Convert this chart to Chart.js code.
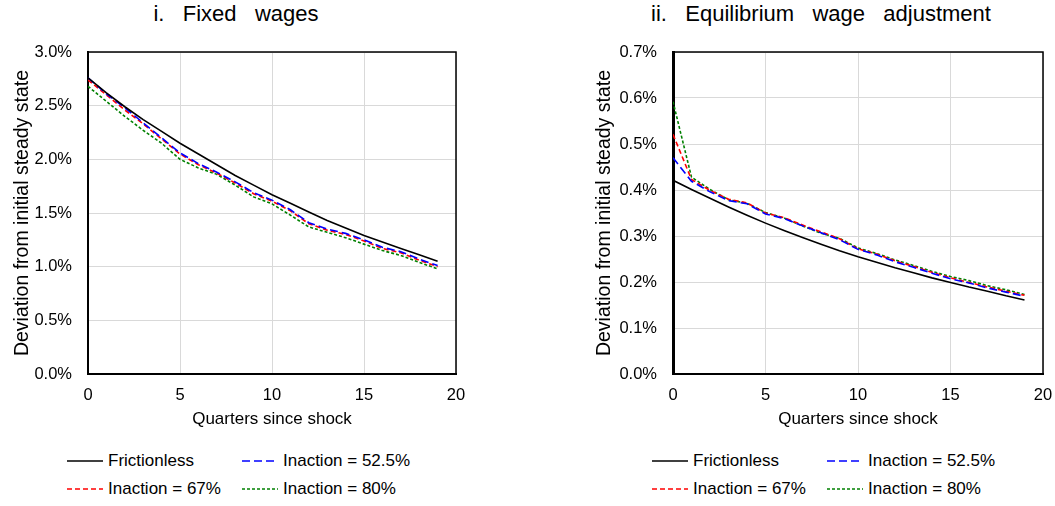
<!DOCTYPE html>
<html>
<head>
<meta charset="utf-8">
<title>Fixed wages vs equilibrium wage adjustment</title>
<script src="https://cdn.jsdelivr.net/npm/chart.js@4.4.1/dist/chart.umd.min.js"></script>
<style>
  body { margin: 0; background: #fff; font-family: "Liberation Sans", Arial, sans-serif; color: #000; }
  #page { position: relative; width: 1055px; height: 506px; overflow: hidden; }
  .panel { position: absolute; top: 0; height: 440px; }
  .title { position: absolute; top: 0; font-size: 22px; line-height: 28px; white-space: pre; transform: translateX(-50%); }
  .legend-item { position: absolute; display: flex; align-items: center; font-size: 17px; white-space: pre; transform: translateY(-50%); }
  .legend-item svg { margin-right: 5px; }
</style>
</head>
<body>
<div id="page">
  <div class="title" style="left:236px">i.   Fixed   wages</div>
  <div class="title" style="left:821px">ii.   Equilibrium   wage   adjustment</div>
  <div class="panel" style="left:0; width:527px"><canvas id="fixedChart"></canvas></div>
  <div class="panel" style="left:527px; width:528px"><canvas id="eqChart"></canvas></div>
</div>

<script>
// data
const quarters = [0, 1, 2, 3, 4, 5, 6, 7, 8, 9, 10, 11, 12, 13, 14, 15, 16, 17, 18, 19];
const seriesNames = ["Frictionless", "Inaction = 52.5%", "Inaction = 67%", "Inaction = 80%"];

// panel i. fixed wages (%)
const fixedFrictionless = [2.76, 2.62, 2.49, 2.37, 2.26, 2.15, 2.05, 1.95, 1.85, 1.76, 1.67, 1.59, 1.51, 1.43, 1.36, 1.29, 1.23, 1.17, 1.11, 1.05];
const fixedInaction525 = [2.76, 2.61, 2.48, 2.34, 2.20, 2.06, 1.96, 1.88, 1.79, 1.69, 1.62, 1.53, 1.41, 1.35, 1.31, 1.25, 1.18, 1.14, 1.07, 1.01];
const fixedInaction67 = [2.74, 2.60, 2.46, 2.33, 2.19, 2.05, 1.95, 1.87, 1.78, 1.68, 1.61, 1.52, 1.40, 1.34, 1.30, 1.24, 1.17, 1.13, 1.06, 1.00];
const fixedInaction80 = [2.68, 2.54, 2.40, 2.27, 2.15, 2.00, 1.92, 1.86, 1.76, 1.65, 1.585, 1.48, 1.37, 1.32, 1.27, 1.21, 1.15, 1.105, 1.04, 0.98];

// panel ii. equilibrium wage adjustment (%)
const eqFrictionless = [0.421, 0.401, 0.382, 0.363, 0.345, 0.328, 0.312, 0.297, 0.282, 0.268, 0.255, 0.243, 0.231, 0.220, 0.209, 0.199, 0.189, 0.180, 0.170, 0.161];
const eqInaction525 = [0.470, 0.419, 0.396, 0.377, 0.370, 0.348, 0.338, 0.322, 0.307, 0.292, 0.271, 0.259, 0.244, 0.232, 0.219, 0.207, 0.198, 0.187, 0.178, 0.169];
const eqInaction67 = [0.521, 0.423, 0.399, 0.380, 0.372, 0.350, 0.340, 0.324, 0.309, 0.294, 0.272, 0.261, 0.246, 0.234, 0.221, 0.209, 0.199, 0.189, 0.180, 0.171];
const eqInaction80 = [0.592, 0.428, 0.401, 0.379, 0.371, 0.351, 0.339, 0.322, 0.306, 0.295, 0.274, 0.262, 0.248, 0.236, 0.223, 0.212, 0.203, 0.192, 0.183, 0.173];

// gaya garis
const seriesColors = ["#000000", "#0000ff", "#ff0000", "#008000"];
const seriesDash = [[], [8, 4], [5, 3], [3, 2]];

Chart.defaults.font.family = '"Liberation Sans", Arial, sans-serif';
Chart.defaults.color = "#000";

// plugin untuk kotak hitam di sekitar area plot (atas + kanan)
const frameBox = {
  id: "frameBox",
  afterDatasetsDraw(chart) {
    const { ctx, chartArea } = chart;
    ctx.save();
    ctx.strokeStyle = "#000";
    ctx.lineWidth = 1.5;
    ctx.beginPath();
    ctx.moveTo(chartArea.left, chartArea.top);
    ctx.lineTo(chartArea.right, chartArea.top);
    ctx.lineTo(chartArea.right, chartArea.bottom);
    ctx.stroke();
    ctx.restore();
  },
};

function makeChart(canvasId, seriesValues, yMax, padLeft, padRight, yWidth, leftBorder) {
  const config = {
    type: "line",
    data: {
      datasets: seriesValues.map((vals, i) => ({
        label: seriesNames[i],
        data: quarters.map((q, k) => ({ x: q, y: vals[k] })),
        borderColor: seriesColors[i],
        backgroundColor: seriesColors[i],
        borderDash: seriesDash[i],
        borderWidth: 1.6,
        pointRadius: 0,
        tension: 0,
      })),
    },
    options: {
      responsive: true,
      maintainAspectRatio: false,
      animation: false,
      layout: { padding: { top: 52, left: padLeft, right: padRight, bottom: 0 } },
      plugins: { legend: { display: false }, tooltip: { enabled: false } },
      scales: {
        x: {
          type: "linear",
          min: 0,
          max: 20,
          ticks: { stepSize: 5, padding: 2, font: { size: 16.5 } },
          // tick tak terlihat, hanya untuk memberi jarak label
          grid: { color: "#d9d9d9", drawTicks: true, tickLength: 10, tickColor: "rgba(0,0,0,0)" },
          border: { color: "#000", width: 2 },
          title: { display: true, text: "Quarters since shock", font: { size: 17 }, padding: { top: 0, bottom: 10 } },
          afterFit: (scale) => { scale.height = 66; },
        },
        y: {
          min: 0,
          max: yMax,
          ticks: {
            stepSize: yMax > 1 ? 0.5 : 0.1,
            padding: 16,
            font: { size: 16.5 },
            callback: (v) => v.toFixed(1) + "%",
          },
          grid: { color: "#d9d9d9", drawTicks: false },
          border: { color: "#000", width: leftBorder },
          title: { display: true, text: "Deviation from initial steady state", font: { size: 19.5 }, padding: { top: 11.3, bottom: 0 } },
          afterFit: (scale) => { scale.width = yWidth; },
        },
      },
    },
    plugins: [frameBox],
  };
  return new Chart(document.getElementById(canvasId), config);
}

const fixedChart = makeChart("fixedChart",
  [fixedFrictionless, fixedInaction525, fixedInaction67, fixedInaction80], 3.0, 0, 71, 88, 2);
const eqChart = makeChart("eqChart",
  [eqFrictionless, eqInaction525, eqInaction67, eqInaction80], 0.7, 55, 12, 91, 3);

// legenda HTML (2 baris x 2 kolom) di bawah tiap grafik
function makeLegend(colLefts) {
  const page = document.getElementById("page");
  const rowCenters = [461, 489];
  seriesNames.forEach((name, i) => {
    const item = document.createElement("div");
    item.className = "legend-item";
    item.style.left = colLefts[i % 2] + "px";
    item.style.top = rowCenters[Math.floor(i / 2)] + "px";
    const dash = seriesDash[i].join(" ");
    item.innerHTML =
      '<svg width="36" height="4"><line x1="0" y1="2" x2="36" y2="2" stroke="' + seriesColors[i] +
      '" stroke-width="1.6"' + (dash ? ' stroke-dasharray="' + dash + '"' : "") + "/></svg>" +
      "<span>" + name + "</span>";
    page.appendChild(item);
  });
}

makeLegend([67, 242]);
makeLegend([652, 827]);
</script>
</body>
</html>
